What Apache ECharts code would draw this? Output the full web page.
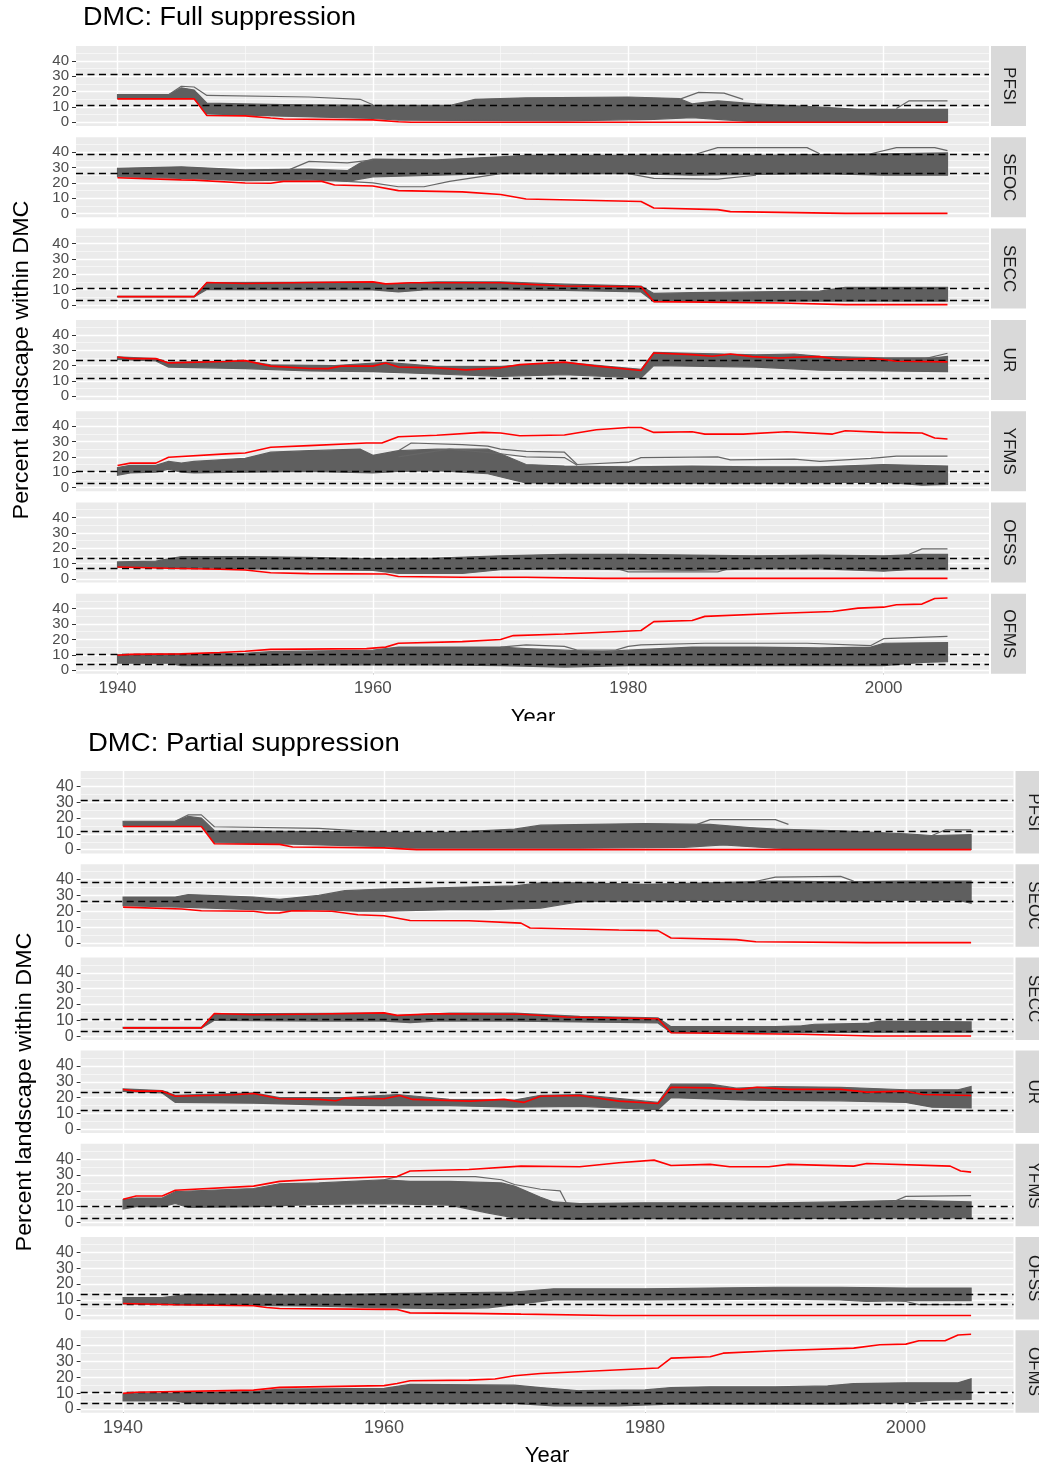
<!DOCTYPE html>
<html><head><meta charset="utf-8">
<script src="https://cdn.jsdelivr.net/npm/echarts@6/dist/echarts.min.js"></script>
<style>html,body{margin:0;padding:0;background:#fff}#c{width:1039px;height:1470px}</style>
</head><body><div id="c"></div><script>
// ---------- shared ----------
const facetNames = ['PFSI','SEOC','SECC','UR','YFMS','OFSS','OFMS'];
const hrvUpper = [31, 38.5, 10.8, 23.7, 10.5, 13.3, 10.5];
const hrvLower = [11.4, 26.3, 2.8, 11.8, 2.8, 7.1, 3.7];
const yTicks = [0, 10, 20, 30, 40];
const yMinor = [5, 15, 25, 35, 45];
const xTicks = [1940, 1960, 1980, 2000];
const xMinor = [1950, 1970, 1990];

// ---------- DMC: Full suppression ----------
const full_PFSI_red = [[1940,15.3],[1946,15.3],[1947,4.5],[1950,4.2],[1952,2.8],[1953,2.2],[1960,1.6],[1962,0.4],[1963,0.1],[2005,0.1]];
const full_PFSI_hi = [[1940,18],[1944,18],[1945,22.5],[1946,21],[1947,12.5],[1953,11.5],[1960,11],[1966,11],[1968,15],[1972,16],[1980,16.5],[1984,15.5],[1985,12],[1987,14],[1990,12],[1995,10],[1998,8.5],[2005,8.5]];
const full_PFSI_lo = [[1940,15.5],[1946,15.5],[1947,5.5],[1953,4],[1960,2.5],[1962,1.5],[1975,1],[1982,2],[1985,3],[1987,2],[1990,0.3],[2005,0.3]];
const full_PFSI_out = [
  [[1944,18],[1945,23.5],[1946,23],[1947,17.5],[1955,16.5],[1959,15],[1960,11.5]],
  [[1984,15],[1985.5,19.5],[1987.5,19],[1989,15]],
  [[2001,9],[2002,14],[2005,14]]
];
const full_SEOC_red = [[1940,23.4],[1945,22],[1946,21.8],[1950,20],[1952,19.8],[1953,21],[1956,21],[1957,18.7],[1960,18],[1962,15],[1967,14.2],[1970,12.5],[1971,11],[1972,9.5],[1981,7.9],[1982,3.7],[1987,2.6],[1988,1.3],[1997,0.2],[2005,0.2]];
const full_SEOC_hi = [[1940,29.5],[1945,30.5],[1950,28.5],[1955,29],[1958,28],[1959,33],[1960,35.5],[1965,35],[1970,37],[1972,38],[1980,38],[1985,38.5],[1990,38],[1995,38.5],[2000,39],[2005,39.5]];
const full_SEOC_lo = [[1940,24],[1945,23],[1950,21.5],[1955,22],[1958,21],[1960,24],[1965,25],[1970,26],[1980,26],[1985,25],[1990,25.5],[1995,26],[2000,25],[2005,25]];
const full_SEOC_out = [
  [[1953,27],[1955,34],[1958,33],[1960,35]],
  [[1958,21],[1960,20],[1962,17.5],[1964,17.5],[1966,21],[1970,26]],
  [[1980,26],[1982,23],[1987,22.5],[1990,25]],
  [[1985,38],[1987,43],[1994,43],[1995,39]],
  [[1999,39],[2001,43],[2004,43],[2005,41]]
];
const full_SECC_red = [[1940,5.4],[1946,5.4],[1947,14.6],[1950,14],[1955,14.6],[1960,15],[1961,13.7],[1963,14.5],[1970,14.5],[1971.5,13.7],[1975,12.3],[1981,11.9],[1982,2.2],[1992,1.3],[1997,0.2],[2005,0.2]];
const full_SECC_hi = [[1940,5.6],[1946,5.6],[1947,14.5],[1960,14.8],[1961,13.5],[1965,15],[1970,15],[1975,13.5],[1981,12.3],[1982,7.5],[1985,8],[1990,8.5],[1995,9],[1997,11.5],[2005,11.5]];
const full_SECC_lo = [[1940,5.2],[1946,5.2],[1947,10],[1955,9.8],[1960,9.8],[1962,8.5],[1964,9.8],[1970,9.8],[1975,9.5],[1981,8.5],[1982,2.2],[1990,2.5],[2005,2.5]];
const full_SECC_out = [];
const full_UR_red = [[1940,25.6],[1941,24.5],[1943,24.5],[1944,21.7],[1948.5,22.6],[1950,23.2],[1952,19.6],[1955,18.1],[1956.5,18],[1957.5,19.6],[1960,19.6],[1961,21.7],[1962,19],[1965,18.5],[1967.3,17.2],[1970,18.5],[1971.5,20.6],[1975,22.2],[1977.5,19.6],[1981,16.8],[1982,28.2],[1985,27.1],[1986.6,26],[1988,27.5],[1989.7,25.8],[1991.8,24.9],[1993,25.4],[1995,25.8],[1996.5,23.9],[1999,24.5],[2000,23.9],[2001,22.8],[2005,22.4]];
const full_UR_hi = [[1940,25.6],[1943,24.5],[1944,22],[1950,23],[1952,20.5],[1957,20],[1961,22],[1965,19.5],[1970,19.5],[1975,22],[1981,17.5],[1982,28.5],[1985,28],[1990,27],[1993,27.5],[1995,26],[2000,25],[2004,25],[2005,26]];
const full_UR_lo = [[1940,24],[1943,23],[1944,19],[1950,18],[1955,16.5],[1960,16],[1965,14.5],[1970,13],[1975,14],[1981,12],[1982,20],[1990,19],[1995,17],[2000,16.5],[2005,16]];
const full_UR_out = [[[2003,24],[2005,28]]];
const full_YFMS_red = [[1940,14.4],[1941,15.9],[1943,15.9],[1944,19.7],[1948.5,21.9],[1950,22.5],[1952,26.2],[1955,27.3],[1959.5,29],[1960.7,29],[1962,33.1],[1965,34],[1968.6,35.9],[1970,35.5],[1971.5,33.7],[1975,34.2],[1977.5,37.6],[1980,39.1],[1981,39.1],[1982,35.9],[1985,36.3],[1986,34.8],[1989,34.8],[1992.4,36.3],[1996,34.8],[1997,37],[2000,35.9],[2003,35.5],[2004,32.3],[2005,31.6]];
const full_YFMS_hi = [[1940,13],[1941,14.5],[1943,14.5],[1944,17],[1945,16],[1946,17],[1950,19],[1952,23],[1955,24],[1959,25],[1960,21],[1962,24],[1965,25],[1969,25],[1970,22],[1972,15],[1975,14],[1980,13.5],[1985,14],[1990,13.5],[1995,13.5],[2000,15],[2005,14]];
const full_YFMS_lo = [[1940,8],[1941,9.5],[1943,10],[1944,12],[1945,10],[1946,9.5],[1950,10],[1955,10.5],[1960,9.5],[1962,10.5],[1965,11],[1969,9],[1971,5],[1972,3],[1980,2.8],[1990,2.8],[2000,3.5],[2003,1.5],[2005,2]];
const full_YFMS_out = [
  [[1962,24],[1963,29],[1967,28],[1969,27],[1970,25],[1972,23.5],[1975,23],[1976,15],[1980,16.5],[1981,19.5],[1987,20],[1988,18],[1993,18.5],[1995,17],[1999,19],[2001,20.5],[2005,20.5]],
  [[1962,20],[1966,25],[1970,22],[1972,20],[1975,19.5],[1976,14.5]]
];
const full_OFSS_red = [[1940,7.7],[1944,6.9],[1948,6.3],[1950,5.8],[1952,4],[1955,3.4],[1961,3.2],[1962,1.5],[1967,1],[1972,1],[1978,0.3],[2005,0.3]];
const full_OFSS_hi = [[1940,11],[1943,11.5],[1945,14.5],[1950,14.5],[1955,14],[1960,13],[1965,13.5],[1970,15],[1975,16],[1980,16],[1990,15],[1995,15.5],[2000,15],[2003,16],[2005,16]];
const full_OFSS_lo = [[1940,7.7],[1945,7.5],[1950,6.5],[1955,6],[1960,5.5],[1962,3.5],[1967,3.5],[1970,6],[1975,6.5],[1980,6],[1985,5.5],[1990,6.5],[1995,6.5],[2000,5],[2002,6],[2005,6]];
const full_OFSS_out = [
  [[2002,16],[2003,19.5],[2005,19.5]],
  [[1979,7],[1980,4.5],[1987,4.5],[1988,7]]
];
const full_OFMS_red = [[1940,9.7],[1941,10.3],[1945,10.6],[1948,11.5],[1950,12.3],[1952,13.5],[1959.5,14],[1961,15],[1962,17.5],[1967,18.6],[1970,20],[1971,22.5],[1975,23.5],[1981,25.8],[1982,31.6],[1985,32.3],[1986,35],[1992,37],[1996,38.2],[1998,40.4],[2000,41],[2001,42.6],[2003,43],[2004,46.6],[2005,47]];
const full_OFMS_hi = [[1940,10],[1944,10.5],[1950,11],[1952,12],[1960,13],[1962,15],[1970,15],[1972,14],[1975,13],[1978,12],[1980,13],[1985,15],[1990,15],[1995,14.5],[1999,15],[2000,17.5],[2005,18]];
const full_OFMS_lo = [[1940,4.5],[1944,4.5],[1945,3],[1950,3],[1955,3.5],[1960,3.5],[1965,3.5],[1970,3],[1975,2],[1980,3],[1990,3],[2000,3],[2003,5],[2005,5.5]];
const full_OFMS_out = [
  [[1970,15],[1972,16.5],[1975,15.5],[1976,13],[1979,13],[1980,15.5],[1981,16.5],[1986,17.5],[1994,17.5],[1999,16],[2000,20.5],[2005,22]]
];

// ---------- DMC: Partial suppression ----------
const part_PFSI_red = [[1940,14.7],[1946,14.7],[1947,3.8],[1952,3.4],[1953,1.7],[1960,1.2],[1962.5,0.1],[2005,0.1]];
const part_PFSI_hi = [[1940,18],[1944,18],[1945,21],[1946,20],[1947,12],[1955,11.5],[1960,11],[1965,11],[1970,13],[1972,15.5],[1980,16.5],[1985,16],[1988,14],[1990,13],[1995,12],[2000,10],[2002,9],[2005,9.5]];
const part_PFSI_lo = [[1940,15.2],[1946,15.2],[1947,4.5],[1953,3.5],[1960,2],[1962,1],[1975,1],[1983,1.5],[1986,3],[1990,1],[1993,0.2],[2005,0.2]];
const part_PFSI_out = [
  [[1944,18],[1945,22],[1946,22],[1947,14.5],[1955,13.5],[1960,11]],
  [[1984,16],[1985,19],[1990,19],[1991,16]],
  [[2002,9],[2003,12.5],[2005,12.5]]
];
const part_SEOC_red = [[1940,22.6],[1944.5,21.4],[1946,20.3],[1950,20],[1951,18.9],[1952,19],[1953,20.3],[1956,20],[1958,17.8],[1960,17.2],[1962,14.2],[1966.5,14],[1970.5,12.5],[1971.2,9.4],[1978,8.2],[1981,7.8],[1982,3.1],[1987,2.1],[1988.5,0.8],[1997,0.2],[2005,0.2]];
const part_SEOC_hi = [[1940,29],[1944,29],[1945,30.5],[1950,29],[1952,27.5],[1955,30],[1957,33],[1960,34],[1965,35],[1970,36],[1972,38],[1975,38],[1980,37],[1985,38],[1990,39],[1995,38.5],[2000,39],[2005,39]];
const part_SEOC_lo = [[1940,23.5],[1945,22.5],[1950,21],[1953,20.5],[1955,21],[1958,20],[1960,20],[1965,21],[1968,21],[1972,22],[1975,26],[1980,26.5],[1985,27],[1990,26.5],[1995,26.5],[2000,27],[2004,27],[2005,25]];
const part_SEOC_out = [
  [[1988,38],[1990,41.5],[1995,42],[1996,39]]
];
const part_SECC_red = [[1940,5.2],[1946,5.2],[1947,14.3],[1950,13.5],[1955,14],[1960,14.7],[1961,13.1],[1964,14.1],[1970.5,13.8],[1974,12.1],[1981,11],[1982,2.1],[1992,1.2],[1997.5,0.1],[2005,0.1]];
const part_SECC_hi = [[1940,5.5],[1946,5.5],[1947,14],[1960,14.5],[1961,13],[1965,14.5],[1970,14.5],[1975,12.5],[1981,11.5],[1982,6],[1985,6],[1990,6],[1992,6.5],[1993,7.5],[1997,8],[1998,9.5],[2005,9]];
const part_SECC_lo = [[1940,5],[1946,5],[1947,10],[1955,9.5],[1960,9.5],[1962,8.5],[1964,9.5],[1970,9.5],[1975,9],[1981,8.3],[1982,2.2],[1990,2.2],[2000,2.5],[2005,2.5]];
const part_SECC_out = [];
const part_UR_red = [[1940,25.2],[1941,24.1],[1943,24.1],[1944,20.9],[1948.5,21.8],[1950,22.6],[1952,19.3],[1955,18.9],[1956.3,18],[1957,19.7],[1960,19.3],[1961.2,21.4],[1962.2,18.9],[1966.6,17.8],[1969.2,18.9],[1970.7,17],[1972,20.9],[1975,21.4],[1978,17.8],[1981,16.3],[1982,26.6],[1985,26.2],[1987.3,25.2],[1988.6,26.6],[1991,25.2],[1995,25.2],[1997,23.5],[2000,24.1],[2001.3,22],[2005,21.4]];
const part_UR_hi = [[1940,25.5],[1943,24.5],[1944,21.5],[1950,23],[1952,20],[1957,20],[1961,22],[1965,19],[1970,18.5],[1972,21.5],[1975,22],[1981,17],[1982,28.5],[1985,28.5],[1987,26],[1990,27],[1995,26.5],[2000,25],[2004,25],[2005,27]];
const part_UR_lo = [[1940,24],[1943,23],[1944,17],[1950,16.5],[1955,15.5],[1960,15],[1965,15],[1970,14],[1975,14.5],[1981,12.5],[1982,20],[1988,18.5],[1995,18],[2000,17],[2002,14],[2005,13.5]];
const part_UR_out = [];
const part_YFMS_red = [[1940,14.7],[1941,16.8],[1943,16.8],[1944,20.4],[1950,23],[1952,26],[1955,27.3],[1960,28.9],[1961,29],[1962,32.5],[1966.5,33.5],[1970.5,35.6],[1975,35.2],[1978,37.7],[1980.7,39.4],[1982,36],[1985,36.7],[1986.5,35.2],[1989.5,35.2],[1991,36.7],[1996,35.6],[1997,37.3],[2003.4,35.6],[2004.2,32.5],[2005,31.8]];
const part_YFMS_hi = [[1940,14.5],[1941,15.5],[1943,15.5],[1944,19.5],[1950,21.5],[1952,24.5],[1955,25],[1960,27],[1962,26],[1965,26],[1969,25],[1970,23],[1972,16],[1973,13],[1975,12],[1980,12.5],[1985,12.5],[1990,12.5],[1995,13],[2000,14],[2005,13]];
const part_YFMS_lo = [[1940,8.5],[1941,10],[1943,10],[1944,12],[1945,9.5],[1950,10],[1955,11.5],[1960,12],[1965,11],[1968,6],[1970,3],[1972,2.5],[1975,2],[1980,2.5],[1990,2.5],[2000,3],[2005,3]];
const part_YFMS_out = [
  [[1960,27],[1961,29],[1967,29],[1969,27],[1970,24],[1972,21],[1973.5,20],[1974,12]],
  [[1999,13],[2000,16.5],[2005,17]]
];
const part_OFSS_red = [[1940,7.7],[1944,6.9],[1950,6.3],[1951,5.2],[1952,4.6],[1960,4],[1961,3.9],[1962,1.8],[1966.5,1.5],[1970.5,1],[1977.5,0.2],[2005,0.2]];
const part_OFSS_hi = [[1940,11.5],[1943,11.5],[1945,13.5],[1950,13],[1955,13],[1960,14],[1965,14.5],[1970,15],[1973,17],[1980,17],[1985,17.5],[1990,18],[1995,18],[2000,17.5],[2005,17.5]];
const part_OFSS_lo = [[1940,7.5],[1945,7],[1950,6.5],[1955,6],[1960,5],[1965,4.5],[1968,5],[1970,7],[1973,10],[1980,10],[1990,10.5],[1995,10],[1997,9],[2000,9.5],[2005,9.5]];
const part_OFSS_out = [
  [[1998,10],[2000,9],[2001,7],[2005,7]]
];
const part_OFMS_red = [[1940,9.8],[1941,10.5],[1950,11.9],[1952,13.6],[1960,14.7],[1961,16.1],[1962,17.8],[1966.5,18.2],[1968.5,18.9],[1970,21],[1972,22.4],[1981,25.8],[1982,32.1],[1985,32.9],[1986,35.2],[1990,36.7],[1996,38.4],[1998,40.5],[2000,40.9],[2001,43],[2003,43],[2004,46.7],[2005,47.1]];
const part_OFMS_hi = [[1940,9.5],[1944,10],[1945,10.5],[1950,11],[1952,12.5],[1960,13],[1962,15.5],[1970,15],[1972,13.5],[1975,11.5],[1980,12],[1982,13.5],[1985,14],[1990,14],[1994,14.5],[1996,16],[2000,16.5],[2004,16.5],[2005,19]];
const part_OFMS_lo = [[1940,5],[1944,5],[1945,3.5],[1955,3.5],[1960,3.5],[1965,3.5],[1970,3.5],[1973,2],[1978,2],[1982,3],[1990,3],[1995,3],[2000,4],[2002,5.5],[2005,6]];
const part_OFMS_out = [];

// ---------- assemble ----------
const fullData = {
  PFSI:[full_PFSI_red, full_PFSI_hi, full_PFSI_lo, full_PFSI_out],
  SEOC:[full_SEOC_red, full_SEOC_hi, full_SEOC_lo, full_SEOC_out],
  SECC:[full_SECC_red, full_SECC_hi, full_SECC_lo, full_SECC_out],
  UR:[full_UR_red, full_UR_hi, full_UR_lo, full_UR_out],
  YFMS:[full_YFMS_red, full_YFMS_hi, full_YFMS_lo, full_YFMS_out],
  OFSS:[full_OFSS_red, full_OFSS_hi, full_OFSS_lo, full_OFSS_out],
  OFMS:[full_OFMS_red, full_OFMS_hi, full_OFMS_lo, full_OFMS_out]
};
const partData = {
  PFSI:[part_PFSI_red, part_PFSI_hi, part_PFSI_lo, part_PFSI_out],
  SEOC:[part_SEOC_red, part_SEOC_hi, part_SEOC_lo, part_SEOC_out],
  SECC:[part_SECC_red, part_SECC_hi, part_SECC_lo, part_SECC_out],
  UR:[part_UR_red, part_UR_hi, part_UR_lo, part_UR_out],
  YFMS:[part_YFMS_red, part_YFMS_hi, part_YFMS_lo, part_YFMS_out],
  OFSS:[part_OFSS_red, part_OFSS_hi, part_OFSS_lo, part_OFSS_out],
  OFMS:[part_OFMS_red, part_OFMS_hi, part_OFMS_lo, part_OFMS_out]
};

const FONT = '"Liberation Sans", Arial, sans-serif';
const panels = [
  {title:'DMC: Full suppression', data:fullData, left:76, width:913, top:46, pitch:91.3, h:80,
   stripX:991, stripW:35, titleX:83, titleY:18, titleScale:1.08, yTitleX:22, yTitleY:360, xFont:17, yFont:15,
   yearX:533, yearY:718},
  {title:'DMC: Partial suppression', data:partData, left:80.7, width:932.8, top:771, pitch:93.2, h:82.5,
   stripX:1015.5, stripW:36, titleX:88, titleY:744, titleScale:1.1, yTitleX:25, yTitleY:1092, xFont:18, yFont:16,
   yearX:547, yearY:1456}
];
const XMIN = 1936.75, XMAX = 2008.25, YMIN = -2.37, YMAX = 49.7;

const grids = [], xAxes = [], yAxes = [], series = [], graphics = [];

panels.forEach((P, pi) => {
  graphics.push({type:'text', x:P.titleX, y:P.titleY, scaleX:P.titleScale,
    style:{text:P.title, font:'25px ' + FONT, fill:'#000', verticalAlign:'middle'}});
  graphics.push({type:'text', x:P.yTitleX, y:P.yTitleY, rotation:Math.PI/2, scaleX:1.06,
    style:{text:'Percent landscape within DMC', font:'22px ' + FONT, fill:'#000', align:'center', verticalAlign:'middle'}});
  graphics.push({type:'text', x:P.yearX, y:P.yearY, style:{text:'Year', font:'22px ' + FONT, fill:'#000', align:'center', verticalAlign:'middle'}});

  facetNames.forEach((name, fi) => {
    const gi = pi * 7 + fi;
    const top = P.top + fi * P.pitch;
    const last = fi === 6;
    const [red, hi, lo, outs] = P.data[name];
    grids.push({left:P.left, top:top, width:P.width, height:P.h, show:true, backgroundColor:'#ebebeb', borderWidth:0});
    xAxes.push({type:'value', gridIndex:gi, min:XMIN, max:XMAX,
      axisLine:{show:false}, splitLine:{show:false},
      axisTick:{show:last, customValues:xTicks, length:4, lineStyle:{color:'#333', width:1}},
      axisLabel:{show:last, customValues:xTicks, fontSize:P.xFont, color:'#4d4d4d', margin:6, fontFamily:FONT,
        showMinLabel:true, showMaxLabel:true, hideOverlap:false, formatter:v => String(v)}});
    yAxes.push({type:'value', gridIndex:gi, min:YMIN, max:YMAX,
      axisLine:{show:false}, splitLine:{show:false},
      axisTick:{show:true, customValues:yTicks, length:4, lineStyle:{color:'#333', width:1}},
      axisLabel:{show:true, interval:0, customValues:yTicks, fontSize:P.yFont, lineHeight:12, color:'#4d4d4d', margin:7, fontFamily:FONT,
        showMinLabel:true, showMaxLabel:true, hideOverlap:false, formatter:v => String(v)}});
    // panel grid lines
    const gl = [];
    yMinor.forEach(v => gl.push({yAxis:v, lineStyle:{color:'#fafafa', width:0.7, type:'solid'}}));
    xMinor.forEach(v => gl.push({xAxis:v, lineStyle:{color:'#fafafa', width:0.7, type:'solid'}}));
    yTicks.forEach(v => gl.push({yAxis:v, lineStyle:{color:'#fff', width:1.4, type:'solid'}}));
    xTicks.forEach(v => gl.push({xAxis:v, lineStyle:{color:'#fff', width:1.4, type:'solid'}}));
    series.push({type:'line', xAxisIndex:gi, yAxisIndex:gi, data:[[1940, 0]], symbol:'none', silent:true,
      lineStyle:{opacity:0}, z:1,
      markLine:{silent:true, symbol:['none','none'], z:1, label:{show:false}, animation:false, data:gl}});
    // ensemble band
    series.push({type:'custom', xAxisIndex:gi, yAxisIndex:gi, data:[[1940, 0]], silent:true, z:2,
      renderItem:(params, api) => {
        const pts = hi.map(p => api.coord(p)).concat(lo.slice().reverse().map(p => api.coord(p)));
        return {type:'polygon', shape:{points:pts}, style:{fill:'#5f5f5f', stroke:'#5f5f5f', lineWidth:1.2}};
      }});
    outs.forEach(o => series.push({type:'line', xAxisIndex:gi, yAxisIndex:gi, data:o, symbol:'none', silent:true,
      z:2, lineStyle:{color:'#666', width:1.2}}));
    // red line + dashed HRV range
    series.push({type:'line', xAxisIndex:gi, yAxisIndex:gi, data:red, symbol:'none', silent:true, z:4,
      lineStyle:{color:'#ff0000', width:1.6},
      markLine:{silent:true, symbol:['none','none'], z:3, label:{show:false}, animation:false,
        lineStyle:{color:'#000', width:1.4, type:[7,4.5]},
        data:[{yAxis:hrvUpper[fi]}, {yAxis:hrvLower[fi]}]}});
    // strip
    graphics.push({type:'rect', shape:{x:P.stripX, y:top, width:P.stripW, height:P.h}, style:{fill:'#d9d9d9'}});
    graphics.push({type:'text', x:P.stripX + P.stripW / 2, y:top + P.h / 2, rotation:-Math.PI/2,
      style:{text:name, font:'17px ' + FONT, fill:'#1a1a1a', align:'center', verticalAlign:'middle'}});
  });
});
// white band where the second figure overlaps the first one's axis title
graphics.push({type:'rect', z:100, shape:{x:0, y:721, width:1039, height:12}, style:{fill:'#fff'}});

const chart = echarts.init(document.getElementById('c'), null, {renderer:'canvas'});
chart.setOption({animation:false, backgroundColor:'#fff', grid:grids, xAxis:xAxes, yAxis:yAxes, series:series, graphic:graphics});
</script></body></html>
